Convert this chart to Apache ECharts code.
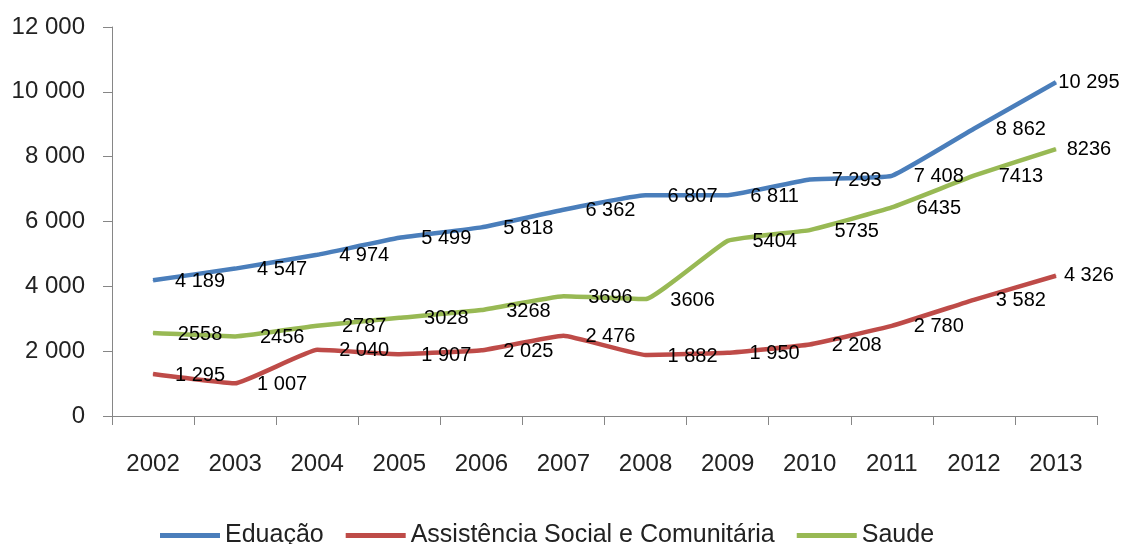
<!DOCTYPE html>
<html>
<head>
<meta charset="utf-8">
<script src="https://cdn.jsdelivr.net/npm/echarts@6/dist/echarts.min.js"></script>
<style>
  html, body { margin: 0; padding: 0; background: #fff; }
  #chart { width: 1121px; height: 544px; }
</style>
</head>
<body>
<div id="chart"></div>
<script>
const years = ['2002', '2003', '2004', '2005', '2006', '2007', '2008', '2009', '2010', '2011', '2012', '2013'];
const educacao = [4189, 4547, 4974, 5499, 5818, 6362, 6807, 6811, 7293, 7408, 8862, 10295];
const assistencia = [1295, 1007, 2040, 1907, 2025, 2476, 1882, 1950, 2208, 2780, 3582, 4326];
const saude = [2558, 2456, 2787, 3028, 3268, 3696, 3606, 5404, 5735, 6435, 7413, 8236];
const seriesNames = ['Eduação', 'Assistência Social e Comunitária', 'Saude'];

// "12 000" style with a space between thousands
function spaced(v) {
  return String(v).replace(/\B(?=(\d{3})+(?!\d))/g, ' ');
}

function makeSeries(name, values, color, useSpace) {
  return {
    name: name,
    type: 'line',
    data: values.map((v, i) => ({
      value: v,
      // last labels get pulled back so they fit inside the picture
      label: i === values.length - 1 ? { offset: [33, 0] } : undefined
    })),
    smooth: 0.1,
    symbol: 'circle',
    symbolSize: 1,
    itemStyle: { color: color },
    lineStyle: { color: color, width: 4.5 },
    label: {
      show: true,
      position: 'inside',
      offset: [47, 1],
      color: '#000',
      fontFamily: 'Liberation Sans',
      fontSize: 20,
      formatter: p => useSpace ? spaced(p.value) : String(p.value)
    },
    emphasis: { disabled: true },
    animation: false
  };
}

const chart = echarts.init(document.getElementById('chart'));
chart.setOption({
  backgroundColor: '#fff',
  grid: { left: 112, right: 24, top: 27, bottom: 128, containLabel: false },
  legend: {
    data: seriesNames,
    left: 155,
    top: 518,
    icon: 'rect',
    itemWidth: 60,
    itemHeight: 5,
    itemGap: 22,
    textStyle: { fontFamily: 'Liberation Sans', fontSize: 25, color: '#222' }
  },
  xAxis: {
    type: 'category',
    data: years,
    boundaryGap: true,
    axisLine: { lineStyle: { color: '#868686', width: 1 } },
    axisTick: { show: true, length: 9, interval: 0, lineStyle: { color: '#868686' } },
    axisLabel: { margin: 36, interval: 0, fontFamily: 'Liberation Sans', fontSize: 24, color: '#222' }
  },
  yAxis: {
    type: 'value',
    min: 0,
    max: 12000,
    interval: 2000,
    axisLine: { show: true, lineStyle: { color: '#868686', width: 1 } },
    axisTick: { show: true, length: 9, lineStyle: { color: '#868686' } },
    splitLine: { show: false },
    axisLabel: { margin: 27, fontFamily: 'Liberation Sans', fontSize: 24, color: '#222', formatter: v => spaced(v) }
  },
  series: [
    makeSeries(seriesNames[0], educacao, '#4A7EBB', true),
    makeSeries(seriesNames[1], assistencia, '#BE4B48', true),
    makeSeries(seriesNames[2], saude, '#98B954', false)
  ]
});
</script>
</body>
</html>
